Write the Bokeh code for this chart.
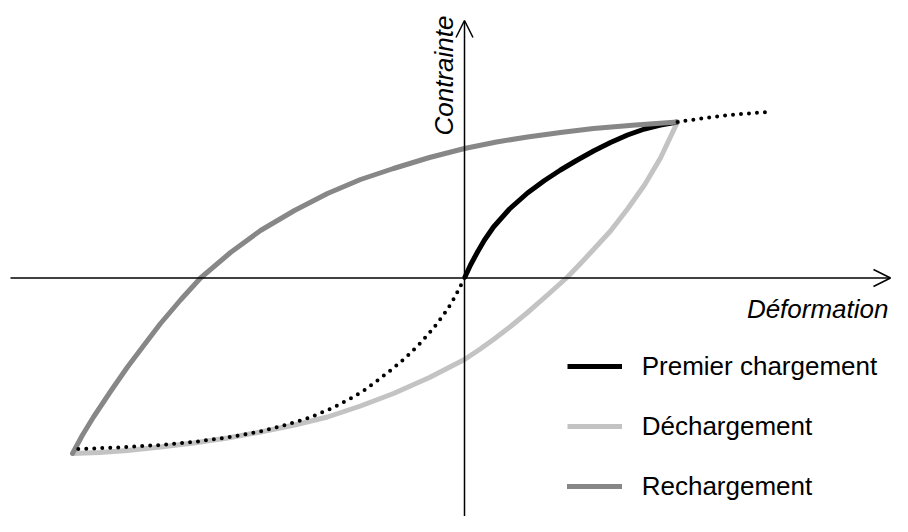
import math
from bokeh.plotting import figure
from bokeh.models import Label, Arrow, OpenHead, Legend, LegendItem
from bokeh.embed import file_html
from bokeh.resources import INLINE

# ---- data (strain, stress) ----
premier_x = [0.0, 0.06, 0.13, 0.20, 0.29, 0.45, 0.63, 0.80, 0.96, 1.12, 1.29,
             1.46, 1.63, 1.80, 1.96, 2.13]
premier_y = [0.0, 0.13, 0.26, 0.38, 0.51, 0.69, 0.85, 0.975, 1.08, 1.175, 1.27,
             1.355, 1.43, 1.49, 1.53, 1.56]

prolong_x = [2.13, 2.40, 2.70, 3.03]
prolong_y = [1.56, 1.60, 1.635, 1.66]

sym_x = [0.0, -0.06, -0.13, -0.21, -0.29, -0.36, -0.45, -0.55, -0.65, -0.76,
         -0.89, -1.0, -1.11, -1.32, -1.56, -1.81, -2.04, -2.37, -2.71, -3.04,
         -3.37, -3.71, -3.87]
sym_y = [0.0, -0.12, -0.25, -0.37, -0.475, -0.56, -0.66, -0.76, -0.85, -0.94,
         -1.04, -1.12, -1.19, -1.30, -1.40, -1.475, -1.535, -1.595, -1.64, -1.67,
         -1.69, -1.705, -1.71]

decharge_x = [2.13, 2.04, 1.96, 1.80, 1.63, 1.46, 1.29, 1.16, 1.03, 0.83, 0.63,
              0.46, 0.29, 0.15, 0.0, -0.35, -0.71, -1.04, -1.37, -1.70, -2.04,
              -2.37, -2.71, -3.04, -3.37, -3.65, -3.92]
decharge_y = [1.56, 1.37, 1.20, 0.93, 0.69, 0.47, 0.285, 0.145, 0.01, -0.17,
              -0.345, -0.485, -0.615, -0.715, -0.815, -0.995, -1.155, -1.28, -1.39,
              -1.47, -1.54, -1.60, -1.65, -1.69, -1.725, -1.745, -1.755]

recharge_x = [-3.92, -3.82, -3.71, -3.54, -3.37, -3.20, -3.04, -2.84, -2.64,
              -2.34, -2.04, -1.70, -1.37, -1.04, -0.71, -0.35, 0.0, 0.32, 0.63,
              0.96, 1.29, 1.71, 2.13]
recharge_y = [-1.755, -1.57, -1.39, -1.135, -0.89, -0.665, -0.455, -0.22, 0.0,
              0.255, 0.475, 0.675, 0.845, 0.985, 1.095, 1.205, 1.295, 1.36, 1.41,
              1.455, 1.495, 1.53, 1.56]

labels = ["Premier chargement", "Déchargement", "Rechargement"]

FONT = "Liberation Sans"

p = figure(width=892, height=516, x_range=(-4.64, 4.28), y_range=(-2.385, 2.775),
           output_backend="svg", toolbar_location=None, tools="",
           x_axis_location=None, y_axis_location=None, title=None,
           min_border=0)
p.outline_line_color = None
p.xgrid.visible = False
p.ygrid.visible = False

# axes with arrows
p.add_layout(Arrow(x_start=-4.54, y_start=0, x_end=4.26, y_end=0,
                   line_width=1.5, line_color="black",
                   end=OpenHead(size=17, line_width=1.5, line_color="black")))
p.add_layout(Arrow(x_start=0, y_start=-2.385, x_end=0, y_end=2.575,
                   line_width=1.5, line_color="black",
                   end=OpenHead(size=17, line_width=1.5, line_color="black")))

r_dech = p.line(decharge_x, decharge_y, line_color="#c3c3c3", line_width=5,
                line_join="round")
r_prem = p.line(premier_x, premier_y, line_color="black", line_width=5,
                line_join="round")
r_rech = p.line(recharge_x, recharge_y, line_color="#878787", line_width=5,
                line_join="round", line_cap="round")
p.line(prolong_x, prolong_y, line_color="black", line_width=4,
       line_dash="0 8", line_cap="round")
p.line(sym_x, sym_y, line_color="black", line_width=4,
       line_dash="0 8", line_cap="round")

p.add_layout(Label(x=-0.21, y=1.425, text="Contrainte", angle=math.pi / 2,
                   text_align="left", text_baseline="alphabetic",
                   text_font=FONT, text_font_size="26px",
                   text_font_style="italic", text_color="black"))
p.add_layout(Label(x=4.24, y=-0.305, text="Déformation",
                   text_align="right", text_baseline="alphabetic",
                   text_font=FONT, text_font_size="26px",
                   text_font_style="italic", text_color="black"))

legend = Legend(items=[LegendItem(label=labels[0], renderers=[r_prem]),
                       LegendItem(label=labels[1], renderers=[r_dech]),
                       LegendItem(label=labels[2], renderers=[r_rech])],
                location=(566.7, 0), padding=0, margin=0, spacing=0,
                glyph_width=55, glyph_height=60, label_height=60,
                label_standoff=20, label_text_font=FONT,
                label_text_font_size="26px", label_text_color="black",
                border_line_color=None, background_fill_alpha=0)
p.add_layout(legend)

open("out.html", "w").write(file_html(p, INLINE))
